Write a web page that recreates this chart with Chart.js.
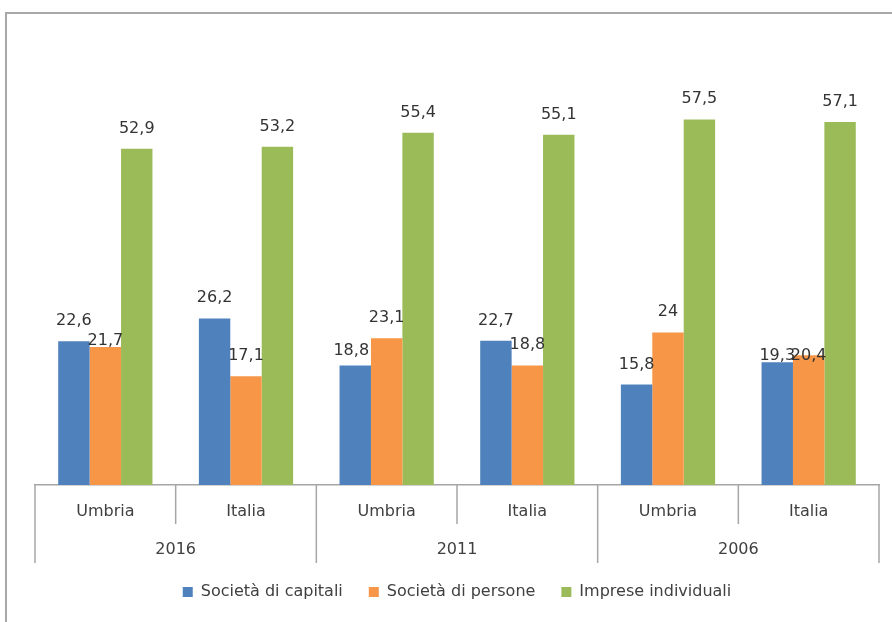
<!DOCTYPE html>
<html>
<head>
<meta charset="utf-8">
<script src="https://cdn.jsdelivr.net/npm/chart.js@4"></script>
<style>
  html, body { margin: 0; padding: 0; background: #fff; overflow: hidden; }
  #wrap { position: relative; width: 892px; height: 622px; overflow: hidden; }
  #frame { position: absolute; left: 5px; top: 12px; width: 1200px; height: 1200px;
           border-left: 2px solid #a8a8a8; border-top: 2px solid #a8a8a8; }
  canvas { position: absolute; left: 0; top: 0; }
</style>
</head>
<body>
<div id="wrap">
  <div id="frame"></div>
  <canvas id="c" width="892" height="622"></canvas>
</div>
<script>
// Inner category level (region) and outer level (census year)
const regions = ['Umbria', 'Italia', 'Umbria', 'Italia', 'Umbria', 'Italia'];
const years = ['2016', '2011', '2006'];

// Series names
const seriesNames = ['Società di capitali', 'Società di persone', 'Imprese individuali'];

// Percent shares per legal form
const capitali    = [22.6, 26.2, 18.8, 22.7, 15.8, 19.3];
const persone     = [21.7, 17.1, 23.1, 18.8, 24.0, 20.4];
const individuali = [52.9, 53.2, 55.4, 55.1, 57.5, 57.1];

const colors = ['#4F81BD', '#F79646', '#9BBB59'];
const AXIS_GRAY = '#a6a6a6';
const TEXT = '#404040';

// Manual offsets for a few value labels that sit lower than the default spot
const labelNudge = { '1:0': [0, 14], '0:2': [-4, 6], '0:5': [0, 14], '1:5': [0, 21] };

const fmt = v => String(v).replace('.', ',');

// Value labels above each bar
const valueLabels = {
  id: 'valueLabels',
  afterDatasetsDraw(chart) {
    const ctx = chart.ctx;
    ctx.save();
    ctx.font = '16px "DejaVu Sans"';
    ctx.fillStyle = '#333333';
    ctx.textAlign = 'center';
    ctx.textBaseline = 'alphabetic';
    chart.data.datasets.forEach((ds, di) => {
      chart.getDatasetMeta(di).data.forEach((bar, i) => {
        const n = labelNudge[di + ':' + i] || [0, 0];
        ctx.fillText(fmt(ds.data[i]), bar.x + n[0], bar.y - 16 + n[1]);
      });
    });
    ctx.restore();
  }
};

// Divider ticks of the two-level category axis
const axisDividers = {
  id: 'axisDividers',
  afterDraw(chart) {
    const xs = chart.scales.x;
    const n = xs.ticks.length;
    const w = (xs.right - xs.left) / n;
    const y0 = chart.chartArea.bottom;
    const ctx = chart.ctx;
    ctx.save();
    ctx.strokeStyle = AXIS_GRAY;
    ctx.lineWidth = 1.5;
    for (let i = 0; i <= n; i++) {
      const x = (i < n ? xs.getPixelForValue(i) - w / 2 : xs.getPixelForValue(n - 1) + w / 2);
      const len = i % 2 === 0 ? 78 : 39;
      ctx.beginPath();
      ctx.moveTo(x, y0);
      ctx.lineTo(x, y0 + len);
      ctx.stroke();
    }
    ctx.restore();
  }
};

const seriesValues = [capitali, persone, individuali];

new Chart(document.getElementById('c'), {
  type: 'bar',
  data: {
    labels: regions,
    datasets: seriesValues.map((vals, k) => ({
      label: seriesNames[k],
      data: vals,
      backgroundColor: colors[k],
      borderWidth: 0,
      categoryPercentage: 0.67,
      barPercentage: 1.0
    }))
  },
  options: {
    responsive: false,
    animation: false,
    devicePixelRatio: 1,
    layout: { padding: { left: 35, right: 13, top: 40, bottom: 12 } },
    scales: {
      y: { display: false, min: 0, max: 70 },
      x: {
        position: 'bottom',
        weight: 0,
        offset: true,
        grid: { display: false, drawTicks: false },
        border: { display: true, color: AXIS_GRAY, width: 1.5 },
        ticks: { color: TEXT, font: { family: 'DejaVu Sans', size: 16 }, padding: 17,
                 autoSkip: false, maxRotation: 0 },
        afterFit(s) { s.height = 39; }
      },
      x2: {
        type: 'category',
        labels: years,
        position: 'bottom',
        weight: 1,
        offset: true,
        grid: { display: false, drawTicks: false },
        border: { display: false },
        ticks: { color: TEXT, font: { family: 'DejaVu Sans', size: 16 }, padding: 16,
                 autoSkip: false, maxRotation: 0 },
        afterFit(s) { s.height = 34; }
      }
    },
    plugins: {
      legend: {
        position: 'bottom',
        labels: { color: TEXT, font: { family: 'DejaVu Sans', size: 16 },
                  boxWidth: 10, boxHeight: 10, padding: 26 }
      },
      tooltip: { enabled: false }
    }
  },
  plugins: [valueLabels, axisDividers]
});
</script>
</body>
</html>
